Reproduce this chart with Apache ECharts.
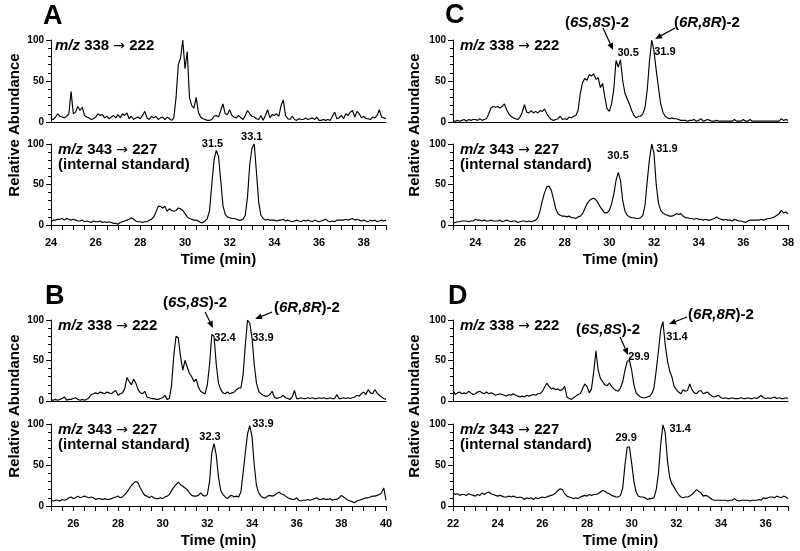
<!DOCTYPE html>
<html><head><meta charset="utf-8">
<script src="https://cdn.jsdelivr.net/npm/echarts@6/dist/echarts.min.js"></script>
<style>html,body{margin:0;padding:0;background:#fff}#c{width:800px;height:551px}</style>
</head><body><div id="c"></div>
<script>
// ---------- DATA (relative abundance, sampled every 0.1 min) ----------
const sampleStep = 0.1;
// Panel A
const aTopStart = 24.0;
const aTop = [4,3,6,10,7,6,5,7,10,37, 10,12,19,14,18,8,6,5,3,4, 6,10,8,9,5,7,4,6,8,5, 9,5,10,8,11,4,7,3,5,6,
  4,8,13,5,3,7,5,7,3,5, 6,3,6,4,2,5,30,70,78,100, 65,86,30,20,17,30,12,6,4,3, 2,2,3,7,8,6,14,22,10,9,
  15,8,6,5,8,5,3,8,14,10, 7,6,4,3,8,2,8,15,5,9, 8,10,7,20,27,8,4,3,7,3, 2,4,3,3,5,3,4,5,3,6,
  2,2,3,2,3,2,7,12,4,5, 8,4,10,8,12,14,6,13,10,5, 7,4,4,3,6,5,8,15,6,5, 4];
const aBotStart = 24.0;
const aBot = [4,6,6,7,7,8,6,8,7,6, 7,6,5,5,6,4,5,4,3,5, 4,4,5,3,4,3,4,3,2,2, 1,3,4,5,6,7,9,7,5,4,
  4,3,4,4,6,7,10,16,23,23, 21,23,17,20,18,17,18,21,20,18, 14,10,8,7,6,6,5,3,3,5, 8,18,50,80,92,85,55,24,13,10,
  9,8,8,7,6,6,7,12,35,75, 95,100,65,28,12,8,6,7,6,6, 6,5,6,6,7,5,6,5,4,5, 6,5,4,6,5,6,5,4,6,5,
  4,5,6,7,5,4,5,4,6,6, 6,6,7,6,7,8,6,7,6,5, 6,5,4,6,5,6,4,5,6,5, 6];
// Panel C
const cTopStart = 23.0;
const cTop = [1,1,2,1,2,3,1,3,2,3, 3,2,4,2,3,4,10,17,19,18, 19,17,19,22,15,10,7,5,4,3, 6,12,21,12,11,14,11,13,11,14,
  13,16,10,6,3,2,3,4,7,3, 4,3,6,5,7,8,14,35,48,53, 51,58,56,59,52,54,42,47,30,16, 13,22,40,75,67,76,50,35,28,22,
  14,8,5,7,7,10,18,40,75,100, 86,63,42,22,12,7,5,4,5,4, 4,3,2,2,2,1,2,2,3,1, 2,4,1,2,3,2,1,1,2,1,
  1,1,1,1,1,1,3,1,1,1, 3,1,1,3,1,1,1,1,1,1, 1,1,1,1,1,1,1,4,2,3, 2];
const cBotStart = 23.0;
const cBot = [2,3,4,4,5,5,5,4,5,5, 7,6,6,5,6,5,5,6,5,5, 5,6,4,5,6,5,4,5,5,3, 4,5,5,4,5,4,5,6,9,18,
  30,40,47,48,43,32,20,14,12,11, 11,10,11,9,9,8,10,11,14,20, 26,30,32,33,31,27,22,18,15,15, 18,26,38,55,65,55,30,17,12,10,
  9,9,8,8,9,12,25,55,82,100, 88,50,27,18,15,13,12,11,11,12, 14,13,14,11,9,9,8,8,7,8, 7,7,6,7,6,6,7,8,10,8,
  7,6,7,6,6,5,7,6,5,5, 4,3,5,6,6,6,6,6,7,6, 7,8,8,9,10,12,14,18,15,16, 14];
// Panel B
const bTopStart = 25.0;
const bTop = [1,1,2,1,2,3,5,1,2,2, 3,4,2,1,2,1,2,4,8,9, 10,9,11,10,9,11,10,9,11,13, 7,9,10,15,29,24,20,27,22,14,
  10,9,12,5,4,3,3,2,2,3, 4,7,2,3,20,57,80,78,55,38, 50,42,34,30,24,27,17,12,10,9, 20,45,82,80,45,22,14,10,9,11,
  9,10,11,14,16,16,32,69,100,96, 78,45,22,12,9,7,6,6,8,12, 5,3,4,5,7,4,3,2,5,13, 3,3,4,3,3,4,3,4,3,3,
  4,3,4,3,3,4,3,3,8,3, 3,4,3,4,3,4,5,7,6,9, 11,8,14,10,9,14,10,7,5,3, 2];
const bBotStart = 25.0;
const bBot = [7,6,7,7,6,8,7,8,10,11, 9,10,12,10,11,12,11,10,11,10, 8,9,9,8,9,8,8,9,10,11, 12,10,11,14,17,21,25,28,30,28,
  22,17,13,12,10,12,10,9,9,10, 9,11,12,14,19,23,26,29,26,24, 22,20,16,13,12,12,13,16,13,12, 14,30,65,76,62,35,19,14,11,9,
  12,13,11,12,11,17,40,65,88,98, 85,50,25,16,12,10,10,12,13,12, 13,15,17,15,14,12,10,9,8,8, 10,7,6,7,7,8,7,8,9,10,
  8,8,9,8,8,9,7,8,8,10, 13,11,9,7,6,5,4,6,7,8, 9,10,10,11,12,12,13,14,16,22, 7];
// Panel D
const dTopStart = 22.0;
const dTop = [14,8,10,11,9,10,9,12,10,8, 9,11,12,10,9,11,9,10,9,7, 8,9,8,7,6,8,7,9,7,6, 5,6,5,7,6,7,8,7,9,9,
  12,17,22,18,15,16,14,15,13,14, 18,5,3,2,4,6,8,9,15,21, 18,10,15,36,62,38,28,24,20,19, 22,18,15,13,12,16,24,38,49,50,
  38,20,10,7,5,4,4,5,6,9, 16,38,62,88,98,70,50,37,30,18, 14,11,9,14,12,13,21,14,10,9, 12,13,9,10,11,8,6,5,6,7,
  4,3,4,3,3,4,3,3,3,4, 3,3,4,3,3,4,3,5,7,4, 3,4,3,4,5,3,4,3,3,4, 3];
const dBotStart = 22.0;
const dBot = [16,14,15,13,14,14,13,15,14,13, 12,14,13,16,14,16,17,15,14,13, 12,13,12,11,11,12,11,12,11,10, 11,10,8,10,9,10,8,10,9,10,
  11,10,11,12,13,14,16,19,21,20, 15,12,11,10,9,10,9,11,12,13, 12,14,13,14,14,15,17,19,18,16, 15,13,12,11,11,13,22,50,72,72,
  52,30,17,12,11,11,10,8,9,9, 10,20,40,75,99,90,56,35,27,23, 18,14,11,10,11,11,12,14,17,20, 18,16,12,13,12,10,8,7,7,7,
  7,7,7,6,7,7,9,7,6,7, 7,7,7,6,7,7,7,8,7,10, 9,10,11,11,10,12,11,10,12,11, 9];

// axis ranges (min)
const xRangeA = [24, 39], xRangeC = [23, 38], xRangeB = [25, 40], xRangeD = [22, 37];
const yTicks = [0, 50, 100];

// text content
const transTop = ['338', '222'], transBot = ['343', '227'];
const isLabel = '(internal standard)';
// peak labels: [plotIndex, time, abundance, text]
const peakLabels = [
  [1, 31.23, 100, '31.5'], [1, 32.99, 108.6, '33.1'],
  [2, 30.84, 84, '30.5'], [2, 32.49, 85.4, '31.9'],
  [3, 30.39, 85.2, '30.5'], [3, 32.58, 93.8, '31.9'],
  [4, 32.79, 77.8, '32.4'], [4, 34.49, 77.8, '33.9'],
  [5, 32.12, 84.1, '32.3'], [5, 34.49, 100, '33.9'],
  [6, 30.33, 54.3, '29.9'], [6, 32.03, 79, '31.4'],
  [7, 29.75, 82.9, '29.9'], [7, 32.17, 93.9, '31.4']
];
// isomer labels: [plotIndex, time, abundance, stereo]
const isomerLabels = [
  [2, 29.45, 120.7, 'SS'], [2, 34.37, 120.7, 'RR'],
  [4, 31.45, 121, 'SS'], [4, 36.46, 114.8, 'RR'],
  [6, 28.94, 87.7, 'SS'], [6, 34.0, 106.2, 'RR']
];
// arrows: [plotIndex, t0, v0, t1, v1]
const arrows = [
  [2, 29.72, 114.6, 30.17, 87.8], [2, 32.94, 114.6, 32.05, 101.2],
  [4, 31.90, 109.9, 32.25, 90.1], [4, 34.90, 109.9, 34.14, 101.2],
  [6, 29.48, 79, 29.84, 56.8], [6, 32.48, 103.7, 31.67, 95.1]
];

// ---------- LAYOUT ----------
const FF = '"Liberation Sans", Arial, Helvetica, sans-serif';
const plots = [
  {vals: aTop, t0: aTopStart, range: xRangeA, left: 51, top: 40, height: 82, bottom: false},
  {vals: aBot, t0: aBotStart, range: xRangeA, left: 51, top: 144, height: 81, bottom: true},
  {vals: cTop, t0: cTopStart, range: xRangeC, left: 453, top: 40, height: 82, bottom: false},
  {vals: cBot, t0: cBotStart, range: xRangeC, left: 453, top: 144, height: 81, bottom: true},
  {vals: bTop, t0: bTopStart, range: xRangeB, left: 51, top: 320, height: 81, bottom: false},
  {vals: bBot, t0: bBotStart, range: xRangeB, left: 51, top: 424, height: 82, bottom: true},
  {vals: dTop, t0: dTopStart, range: xRangeD, left: 453, top: 320, height: 81, bottom: false},
  {vals: dBot, t0: dBotStart, range: xRangeD, left: 453, top: 424, height: 82, bottom: true}
];
const plotWidth = 335;

const grids = [], xAxes = [], yAxes = [], series = [];
plots.forEach((p, i) => {
  grids.push({left: p.left, top: p.top, width: plotWidth, height: p.height, containLabel: false, outerBoundsMode: 'none'});
  const xa = {
    gridIndex: i, type: 'value', min: p.range[0], max: p.range[1],
    axisLine: {show: true, onZero: false, lineStyle: {color: '#000', width: 1}},
    splitLine: {show: false}
  };
  if (p.bottom) {
    Object.assign(xa, {
      interval: 0.5,
      axisTick: {show: true, length: 5, lineStyle: {color: '#000', width: 1}},
      axisLabel: {show: true, margin: 12, color: '#000', fontSize: 11, fontWeight: 'bold', fontFamily: FF,
        formatter: v => (Math.abs(v % 2) < 1e-6 ? String(v) : '')},
      name: 'Time (min)', nameLocation: 'middle', nameGap: 27,
      nameTextStyle: {color: '#000', fontSize: 15, fontWeight: 'bold', fontFamily: FF}
    });
  } else {
    Object.assign(xa, {axisTick: {show: false}, axisLabel: {show: false}});
  }
  xAxes.push(xa);
  yAxes.push({
    gridIndex: i, type: 'value', min: yTicks[0], max: yTicks[2], interval: yTicks[1] - yTicks[0],
    axisLine: {show: true, lineStyle: {color: '#000', width: 1}},
    axisTick: {show: true, length: 5, lineStyle: {color: '#000', width: 1}},
    minorTick: {show: true, splitNumber: 5, length: 3, lineStyle: {color: '#000', width: 1}},
    axisLabel: {show: true, margin: 7, color: '#000', fontSize: 10, fontWeight: 'bold', fontFamily: FF},
    splitLine: {show: false}, minorSplitLine: {show: false}
  });
  series.push({
    type: 'line', xAxisIndex: i, yAxisIndex: i, showSymbol: false, symbol: 'none',
    data: p.vals.map((v, k) => [+(p.t0 + k * sampleStep).toFixed(2), v]),
    lineStyle: {color: '#000', width: 1.15}, itemStyle: {color: '#000'},
    silent: true, animation: false, clip: true
  });
});

const chart = echarts.init(document.getElementById('c'), null, {renderer: 'canvas'});
chart.setOption({
  backgroundColor: '#fff', animation: false,
  grid: grids, xAxis: xAxes, yAxis: yAxes, series: series
});

// ---------- ANNOTATIONS ----------
const px = (i, t, v) => chart.convertToPixel({xAxisIndex: i, yAxisIndex: i}, [t, v]);
const g = [];
const boldFont = s => 'bold ' + s + 'px ' + FF;
// panel letters
[['A', 43, 17], ['C', 445, 16], ['B', 45, 297], ['D', 448, 297]].forEach(([t, x, y]) => {
  g.push({type: 'text', x: x, y: y, style: {text: t, font: boldFont(27), fill: '#000', align: 'left', verticalAlign: 'middle'}});
});
// y titles
[[15, 125], [415, 125], [15, 406], [415, 406]].forEach(([x, y]) => {
  g.push({type: 'text', x: x, y: y, rotation: Math.PI / 2,
    style: {text: 'Relative Abundance', font: boldFont(15), fill: '#000', align: 'center', verticalAlign: 'middle'}});
});
const rich = {
  i: {fontStyle: 'italic', fontWeight: 'bold', fontSize: 15, fontFamily: FF, fill: '#000'},
  b: {fontWeight: 'bold', fontSize: 15, fontFamily: FF, fill: '#000'},
  a: {fontWeight: 'normal', fontSize: 14, fontFamily: '"DejaVu Sans", sans-serif', fill: '#000'}
};
// transition labels
plots.forEach((p, i) => {
  const trans = p.bottom ? transBot : transTop;
  const dx = (i === 0) ? 4 : 7;
  g.push({type: 'text', x: p.left + dx, y: p.top + 6,
    style: {text: '{i|m/z}{b| ' + trans[0] + ' }{a|→}{b| ' + trans[1] + '}', rich: rich, fill: '#000', font: boldFont(15), verticalAlign: 'middle', align: 'left'}});
  if (p.bottom) {
    g.push({type: 'text', x: p.left + dx, y: p.top + 21,
      style: {text: isLabel, font: boldFont(15), fill: '#000', verticalAlign: 'middle', align: 'left'}});
  }
});
// peak labels
peakLabels.forEach(([i, t, v, txt]) => {
  const [x, y] = px(i, t, v);
  g.push({type: 'text', x: x, y: y, style: {text: txt, font: boldFont(11), fill: '#000', align: 'center', verticalAlign: 'middle'}});
});
// isomer labels
isomerLabels.forEach(([i, t, v, st]) => {
  const [x, y] = px(i, t, v);
  const s = st[0];
  g.push({type: 'text', x: x, y: y,
    style: {text: '{b|(}{i|6' + s + ',8' + s + '}{b|)-2}', rich: rich, font: boldFont(15), fill: '#000', align: 'center', verticalAlign: 'middle'}});
});
// arrows
arrows.forEach(([i, t0, v0, t1, v1]) => {
  const [x1, y1] = px(i, t0, v0);
  const [x2, y2] = px(i, t1, v1);
  const dx = x2 - x1, dy = y2 - y1, L = Math.hypot(dx, dy);
  const ux = dx / L, uy = dy / L, nx = -uy, ny = ux;
  const hl = 7, hw = 3;
  const bx = x2 - ux * hl, by = y2 - uy * hl;
  g.push({type: 'line', shape: {x1: x1, y1: y1, x2: bx, y2: by}, style: {stroke: '#000', lineWidth: 1.2}});
  g.push({type: 'polygon', shape: {points: [[x2, y2], [bx + nx * hw, by + ny * hw], [bx - nx * hw, by - ny * hw]]}, style: {fill: '#000'}});
});
chart.setOption({graphic: g});
</script>
</body></html>
